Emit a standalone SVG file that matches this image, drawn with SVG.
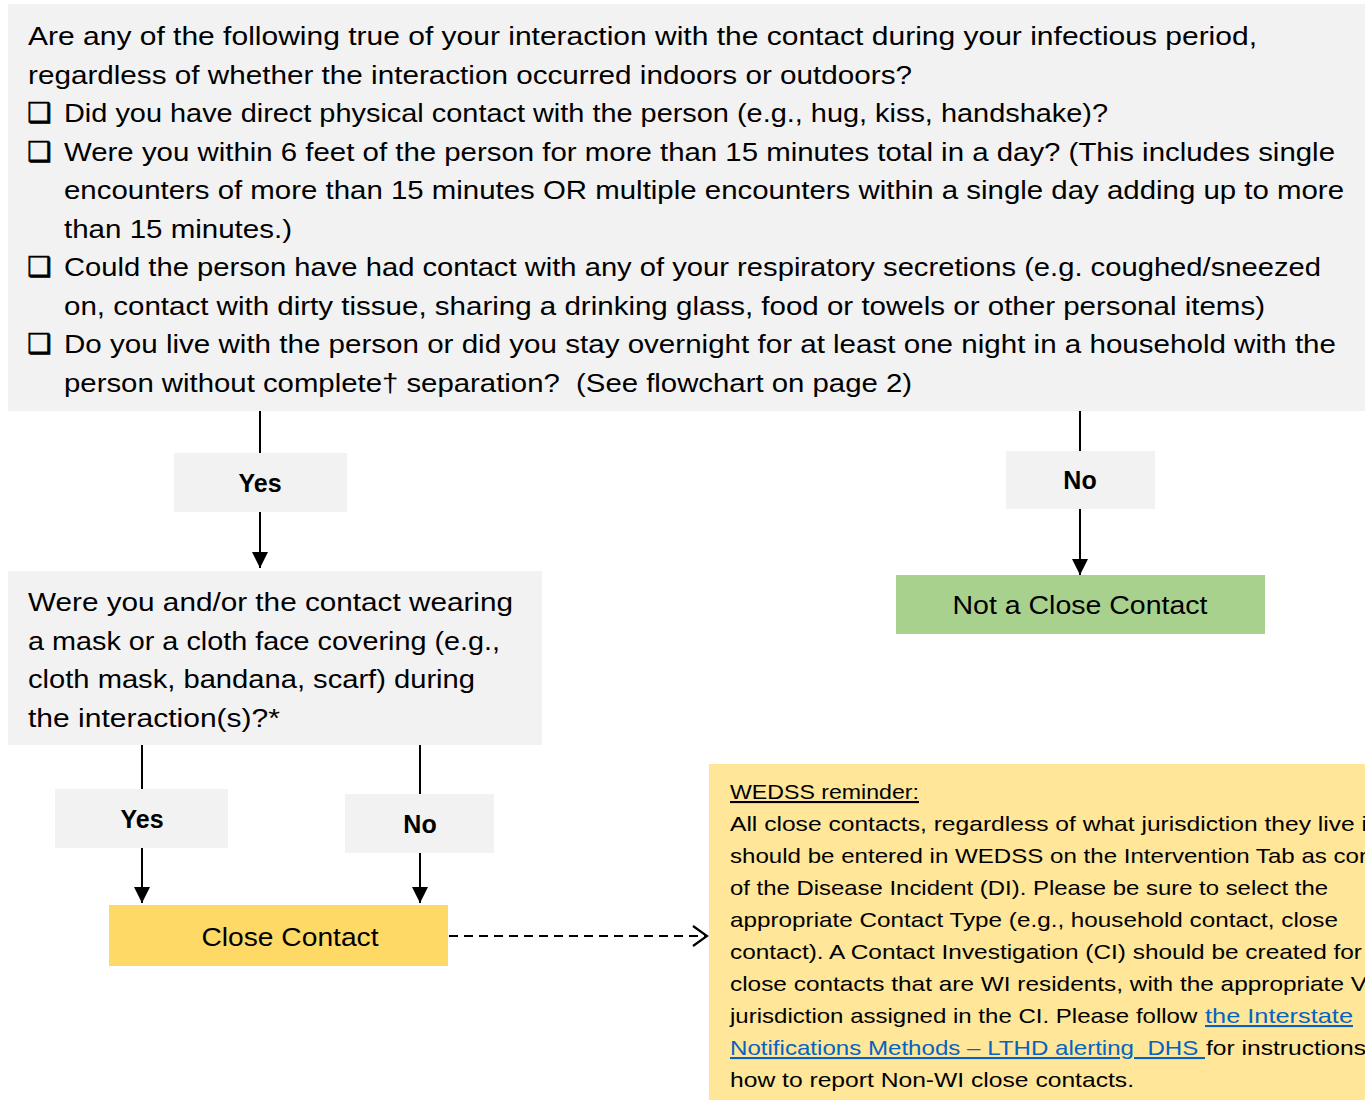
<svg xmlns="http://www.w3.org/2000/svg" width="1365" height="1100" viewBox="0 0 1365 1100">
<defs>
<style>
.t{font-family:"Liberation Sans",Arial,sans-serif;font-size:26.5px;fill:#000}
.s{font-family:"Liberation Sans",Arial,sans-serif;font-size:21px;fill:#000}
.b{font-family:"Liberation Sans",Arial,sans-serif;font-size:25px;font-weight:bold;fill:#000;text-anchor:middle}
.m{font-family:"Liberation Sans",Arial,sans-serif;font-size:26px;fill:#000;text-anchor:middle}
.cb{font-family:"DejaVu Sans",sans-serif;font-size:27px;fill:#000;stroke:#000;stroke-width:0.7}
.lnk{fill:#0563C1;text-decoration:underline}
.gray{fill:#F2F2F2}
.ln{stroke:#000;stroke-width:2;fill:none}
</style>
<marker id="ah" markerWidth="16" markerHeight="16" refX="16" refY="8" orient="auto" markerUnits="userSpaceOnUse" viewBox="0 0 16 16">
<path d="M0,0 L16,8 L0,16 Z" fill="#000"/>
</marker>
<marker id="open" markerWidth="20" markerHeight="24" refX="18" refY="12" orient="auto" markerUnits="userSpaceOnUse" viewBox="0 0 20 24">
<path d="M4,2 L18,12 L4,22" fill="none" stroke="#000" stroke-width="2.2"/>
</marker>
</defs>

<g id="q1">
<rect class="gray" x="8" y="4" width="1357" height="407"/>
<text class="t" x="28" y="45" textLength="1229" lengthAdjust="spacingAndGlyphs">Are any of the following true of your interaction with the contact during your infectious period,</text>
<text class="t" x="28" y="83.5" textLength="884" lengthAdjust="spacingAndGlyphs">regardless of whether the interaction occurred indoors or outdoors?</text>
<text class="cb" x="27" y="122">❑</text>
<text class="t" x="64" y="122" textLength="1044" lengthAdjust="spacingAndGlyphs">Did you have direct physical contact with the person (e.g., hug, kiss, handshake)?</text>
<text class="cb" x="27" y="160.5">❑</text>
<text class="t" x="64" y="160.5" textLength="1271" lengthAdjust="spacingAndGlyphs">Were you within 6 feet of the person for more than 15 minutes total in a day? (This includes single</text>
<text class="t" x="64" y="199" textLength="1280" lengthAdjust="spacingAndGlyphs">encounters of more than 15 minutes OR multiple encounters within a single day adding up to more</text>
<text class="t" x="64" y="237.5" textLength="228" lengthAdjust="spacingAndGlyphs">than 15 minutes.)</text>
<text class="cb" x="27" y="276">❑</text>
<text class="t" x="64" y="276" textLength="1257" lengthAdjust="spacingAndGlyphs">Could the person have had contact with any of your respiratory secretions (e.g. coughed/sneezed</text>
<text class="t" x="64" y="314.5" textLength="1201" lengthAdjust="spacingAndGlyphs">on, contact with dirty tissue, sharing a drinking glass, food or towels or other personal items)</text>
<text class="cb" x="27" y="353">❑</text>
<text class="t" x="64" y="353" textLength="1272" lengthAdjust="spacingAndGlyphs">Do you live with the person or did you stay overnight for at least one night in a household with the</text>
<text class="t" x="64" y="391.5" textLength="848" lengthAdjust="spacingAndGlyphs" xml:space="preserve">person without complete† separation?  (See flowchart on page 2)</text>
</g>

<g id="connectors">
<line class="ln" x1="260" y1="411" x2="260" y2="453"/>
<line class="ln" x1="260" y1="512" x2="260" y2="568" marker-end="url(#ah)"/>
<line class="ln" x1="1080" y1="411" x2="1080" y2="451"/>
<line class="ln" x1="1080" y1="509" x2="1080" y2="575" marker-end="url(#ah)"/>
<line class="ln" x1="142" y1="745" x2="142" y2="789"/>
<line class="ln" x1="142" y1="848" x2="142" y2="903" marker-end="url(#ah)"/>
<line class="ln" x1="420" y1="745" x2="420" y2="794"/>
<line class="ln" x1="420" y1="853" x2="420" y2="903" marker-end="url(#ah)"/>
<line x1="449" y1="936" x2="707" y2="936" stroke="#000" stroke-width="2.2" stroke-dasharray="9,6" marker-end="url(#open)"/>
</g>

<g id="yes1">
<rect class="gray" x="174" y="453" width="173" height="59"/>
<text class="b" x="260" y="492">Yes</text>
</g>

<g id="no1">
<rect class="gray" x="1006" y="451" width="149" height="58"/>
<text class="b" x="1080" y="489">No</text>
</g>

<g id="not-close">
<rect x="896" y="575" width="369" height="59" fill="#A9D18E"/>
<text class="m" x="1080" y="614" textLength="255" lengthAdjust="spacingAndGlyphs">Not a Close Contact</text>
</g>

<g id="q2">
<rect class="gray" x="8" y="571" width="534" height="174"/>
<text class="t" x="28" y="611" textLength="485" lengthAdjust="spacingAndGlyphs">Were you and/or the contact wearing</text>
<text class="t" x="28" y="649.5" textLength="472" lengthAdjust="spacingAndGlyphs">a mask or a cloth face covering (e.g.,</text>
<text class="t" x="28" y="688" textLength="447" lengthAdjust="spacingAndGlyphs">cloth mask, bandana, scarf) during</text>
<text class="t" x="28" y="726.5" textLength="252" lengthAdjust="spacingAndGlyphs">the interaction(s)?*</text>
</g>

<g id="yes2">
<rect class="gray" x="55" y="789" width="173" height="59"/>
<text class="b" x="142" y="828">Yes</text>
</g>

<g id="no2">
<rect class="gray" x="345" y="794" width="149" height="59"/>
<text class="b" x="420" y="833">No</text>
</g>

<g id="close">
<rect x="109" y="905" width="339" height="61" fill="#FFD966"/>
<text class="m" x="290" y="946" textLength="177" lengthAdjust="spacingAndGlyphs">Close Contact</text>
</g>

<g id="wedss">
<rect x="709" y="764" width="656" height="336" fill="#FFE699"/>
<text class="s" x="730" y="799" textLength="189" lengthAdjust="spacingAndGlyphs" text-decoration="underline">WEDSS reminder:</text>
<text class="s" x="730" y="831" textLength="637" lengthAdjust="spacingAndGlyphs">All close contacts, regardless of what jurisdiction they live i</text>
<text class="s" x="730" y="863" textLength="637" lengthAdjust="spacingAndGlyphs">should be entered in WEDSS on the Intervention Tab as cor</text>
<text class="s" x="730" y="895" textLength="598" lengthAdjust="spacingAndGlyphs">of the Disease Incident (DI). Please be sure to select the</text>
<text class="s" x="730" y="927" textLength="608" lengthAdjust="spacingAndGlyphs">appropriate Contact Type (e.g., household contact, close</text>
<text class="s" x="730" y="959" textLength="632" lengthAdjust="spacingAndGlyphs">contact). A Contact Investigation (CI) should be created for</text>
<text class="s" x="730" y="991" textLength="637" lengthAdjust="spacingAndGlyphs">close contacts that are WI residents, with the appropriate V</text>
<text class="s" x="730" y="1023" textLength="474" lengthAdjust="spacingAndGlyphs" xml:space="preserve">jurisdiction assigned in the CI. Please follow </text>
<text class="s lnk" x="1205" y="1023" textLength="148" lengthAdjust="spacingAndGlyphs">the Interstate</text>
<text class="s lnk" x="730" y="1055" textLength="475" lengthAdjust="spacingAndGlyphs" xml:space="preserve">Notifications Methods – LTHD alerting  DHS </text>
<text class="s" x="1206" y="1055" textLength="160" lengthAdjust="spacingAndGlyphs">for instructions</text>
<text class="s" x="730" y="1087" textLength="404" lengthAdjust="spacingAndGlyphs">how to report Non-WI close contacts.</text>
</g>
</svg>
